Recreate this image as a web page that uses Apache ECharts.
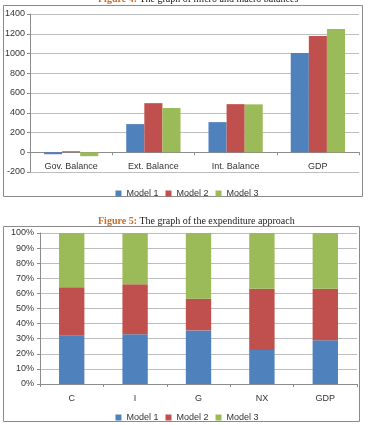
<!DOCTYPE html>
<html>
<head>
<meta charset="utf-8">
<title>Figures 4 and 5</title>
<script src="https://cdn.jsdelivr.net/npm/echarts@6/dist/echarts.min.js"></script>
<style>
  body { margin: 0; background: #fff; }
  #main { width: 374px; height: 425px; }
</style>
</head>
<body>
<div id="main"></div>
<script type="text/javascript">
// figure 4: micro and macro balances
var balCats = ['Gov. Balance', 'Ext. Balance', 'Int. Balance', 'GDP'];
var balModel1 = [-20, 285, 305, 1005];
var balModel2 = [10, 497, 487, 1178];
var balModel3 = [-40, 448, 485, 1248];

// figure 5: expenditure approach (share in %)
var expCats = ['C', 'I', 'G', 'NX', 'GDP'];
var expModel1 = [32, 33, 35.5, 22.5, 29];
var expModel2 = [32, 33, 21, 40.5, 34];
var expModel3 = [36, 34, 43.5, 37, 37];

var modelNames = ['Model 1', 'Model 2', 'Model 3'];
var colors = ['#4F81BD', '#C0504D', '#9BBB59'];

var font = 'Liberation Sans';
var gridColor = '#bdbdbd';
var axisColor = '#8c8c8c';

var myChart = echarts.init(document.getElementById('main'));

function bar(name, data, idx, extra) {
    var s = {
        name: name,
        type: 'bar',
        data: data,
        itemStyle: { color: colors[modelNames.indexOf(name)] },
        xAxisIndex: idx,
        yAxisIndex: idx,
        animation: false
    };
    for (var k in extra) s[k] = extra[k];
    return s;
}

option = {
    color: colors,
    textStyle: { fontFamily: font },
    graphic: [
        { type: 'rect', shape: { x: 3.5, y: 5.5, width: 359, height: 191 },
          style: { fill: 'none', stroke: '#8a8a8a', lineWidth: 1 } },
        { type: 'rect', shape: { x: 3.5, y: 226.5, width: 356, height: 195 },
          style: { fill: 'none', stroke: '#8a8a8a', lineWidth: 1 } }
    ],
    title: [
        {
            text: '{a|Figure 4:} The graph of micro and macro balances',
            left: 93, top: -11,
            textStyle: {
                fontFamily: 'Liberation Serif', fontSize: 10, fontWeight: 'normal', color: '#222',
                rich: { a: { fontFamily: 'Liberation Serif', fontSize: 10, fontWeight: 'bold', color: '#D2691E' } }
            }
        },
        {
            text: '{a|Figure 5:} The graph of the expenditure approach',
            left: 93, top: 211,
            textStyle: {
                fontFamily: 'Liberation Serif', fontSize: 10, fontWeight: 'normal', color: '#222',
                rich: { a: { fontFamily: 'Liberation Serif', fontSize: 10, fontWeight: 'bold', color: '#D2691E' } }
            }
        }
    ],
    legend: [
        {
            data: modelNames, top: 184, left: 'center',
            itemWidth: 6, itemHeight: 6, itemGap: 7,
            textStyle: { fontSize: 9, color: '#333', fontFamily: font },
            icon: 'rect'
        },
        {
            data: modelNames, top: 408, left: 'center',
            itemWidth: 6, itemHeight: 6, itemGap: 7,
            textStyle: { fontSize: 9, color: '#333', fontFamily: font },
            icon: 'rect'
        }
    ],
    grid: [
        { left: 30, right: 15, top: 14, bottom: 253 },
        { left: 40, right: 17, top: 233, bottom: 41 }
    ],
    xAxis: [
        {
            type: 'category', gridIndex: 0, data: balCats,
            axisLine: { onZero: true, lineStyle: { color: axisColor } },
            axisTick: { show: true, length: 3, lineStyle: { color: axisColor } },
            axisLabel: { fontSize: 9, color: '#333', margin: -10 }
        },
        {
            type: 'category', gridIndex: 1, data: expCats,
            axisLine: { lineStyle: { color: axisColor } },
            axisTick: { show: true, length: 3, lineStyle: { color: axisColor } },
            axisLabel: { fontSize: 9, color: '#333', margin: 10 }
        }
    ],
    yAxis: [
        {
            type: 'value', gridIndex: 0, min: -200, max: 1400, interval: 200,
            axisLine: { show: true, lineStyle: { color: axisColor } },
            axisTick: { show: true, length: 3, lineStyle: { color: axisColor } },
            splitLine: { lineStyle: { color: gridColor } },
            axisLabel: { fontSize: 9, color: '#333', margin: 5, formatter: function (v) { return String(v); } }
        },
        {
            type: 'value', gridIndex: 1, min: 0, max: 100, interval: 10,
            axisLine: { show: true, lineStyle: { color: axisColor } },
            axisTick: { show: true, length: 3, lineStyle: { color: axisColor } },
            splitLine: { lineStyle: { color: gridColor } },
            axisLabel: { fontSize: 9, color: '#333', margin: 6, formatter: '{value}%' }
        }
    ],
    series: [
        bar('Model 1', balModel1, 0, { barGap: '0%', barCategoryGap: '34%' }),
        bar('Model 2', balModel2, 0, { barGap: '0%', barCategoryGap: '34%' }),
        bar('Model 3', balModel3, 0, { barGap: '0%', barCategoryGap: '34%' }),
        bar('Model 1', expModel1, 1, { stack: 'exp', barWidth: '40%' }),
        bar('Model 2', expModel2, 1, { stack: 'exp', barWidth: '40%' }),
        bar('Model 3', expModel3, 1, { stack: 'exp', barWidth: '40%' })
    ]
};

myChart.setOption(option);
</script>
</body>
</html>
